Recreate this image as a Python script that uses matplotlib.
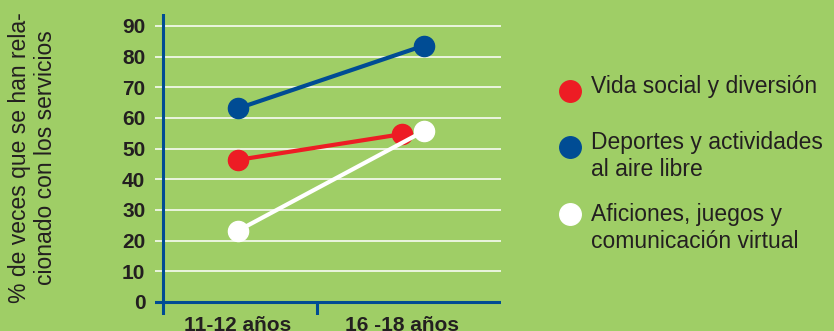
import matplotlib.pyplot as plt

plt.rcParams['font.family'] = ['Liberation Sans', 'DejaVu Sans']

# data
grupos = ['11-12 años', '16 -18 años']
vida_social = [46.3, 54.7]
deportes = [63.1, 83.6]
aficiones = [23.2, 55.7]
yticks = [0, 10, 20, 30, 40, 50, 60, 70, 80, 90]

# x positions of each series (red end sits a bit to the left)
x_vida = [1, 1.88]
x_dep = [1, 2]
x_afi = [1, 2]

verde = '#9fce66'
azul = '#004c94'
rojo = '#ed1c24'
texto = '#231f20'

fig = plt.figure(figsize=(8.34, 3.31), dpi=100, facecolor=verde)
ax = fig.add_axes([155/834, 1-315/331, 346/834, 301/331])
ax.set_facecolor(verde)
ax.set_xlim(0.554, 2.414)
ax.set_ylim(-4.3, 93.9)

for s in ax.spines.values():
    s.set_visible(False)

# white grid lines
for v in yticks[1:]:
    ax.axhline(v, color='white', lw=1.1, zorder=1)
ax.axhline(0, color=azul, lw=2.2, zorder=2)
ax.axvline(0.597, color=azul, lw=2.2, zorder=2)
ax.vlines(1.425, -4.3, 0, color=azul, lw=2.2, zorder=2)

ms = 14.5
ax.plot(x_dep, deportes, color=azul, lw=3, marker='o', ms=ms, zorder=3)
ax.plot(x_vida, vida_social, color=rojo, lw=3, marker='o', ms=ms, zorder=4)
ax.plot(x_afi, aficiones, color='white', lw=3, marker='o', ms=ms, zorder=5)

ax.set_yticks(yticks)
ax.set_yticklabels([str(v) for v in yticks], fontsize=15, fontweight='bold', color=texto)
ax.tick_params(axis='y', length=0, pad=7)
ax.set_xticks([])
for xp, lab in zip([1, 1.88], grupos):
    ax.text(xp, -7.8, lab, ha='center', va='center', fontsize=15,
            fontweight='bold', color=texto, clip_on=False)

fig.text(20/834, 1-158/331, '% de veces que se han rela-', rotation=90,
         ha='center', va='center', fontsize=16.5, color=texto)
fig.text(46/834, 1-158/331, 'cionado con los servicios', rotation=90,
         ha='center', va='center', fontsize=16.5, color=texto)

# legend: marker y, first text line y
leyenda = [(rojo, 91, 87, ['Vida social y diversión']),
           (azul, 147, 142, ['Deportes y actividades', 'al aire libre']),
           ('white', 214, 214, ['Aficiones, juegos y', 'comunicación virtual'])]
for col, ym, yt, lineas in leyenda:
    fig.lines.append(plt.Line2D([570/834], [1-ym/331], marker='o', ms=15.5,
                                color=col, transform=fig.transFigure))
    for i, t in enumerate(lineas):
        fig.text(591/834, 1-(yt+i*27)/331, t, ha='left', va='center',
                 fontsize=16.5, color=texto)

fig.savefig('out.png', dpi=100, facecolor=verde)
